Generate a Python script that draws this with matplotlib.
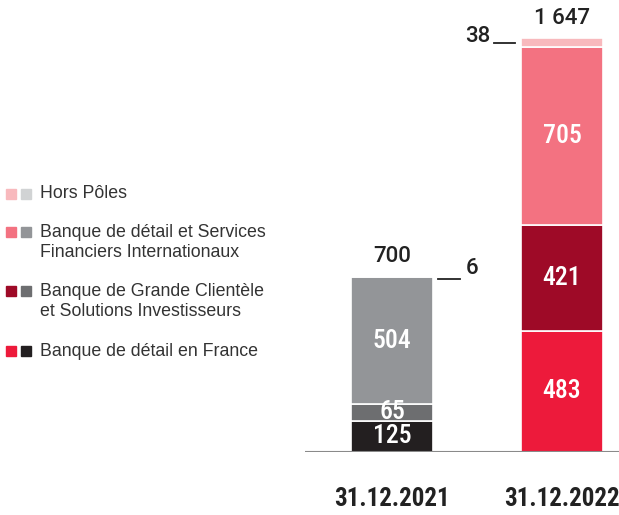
import matplotlib.pyplot as plt
from matplotlib.patches import Rectangle
from matplotlib import font_manager

years = ['31.12.2021', '31.12.2022']
segments = ['Banque de détail en France',
            'Banque de Grande Clientèle\net Solutions Investisseurs',
            'Banque de détail et Services\nFinanciers Internationaux',
            'Hors Pôles']
values_2021 = [125, 65, 504, 6]
values_2022 = [483, 421, 705, 38]
totals = ['700', '1 647']

grey_cols = ['#231f20', '#6d6e70', '#939598', '#d1d3d4']
red_cols = ['#ed1a3b', '#9e0a27', '#f37281', '#f8b9bd']

# pick a narrow face if one is around, else Arial-like Liberation Sans
ttf = font_manager.fontManager.ttflist
installed = {f.name for f in ttf}
narrow_name = 'Liberation Sans'
for cand in ['Liberation Sans Narrow', 'Roboto Condensed', 'Open Sans Condensed', 'Noto Sans Condensed']:
    if cand in installed:
        narrow_name = cand
        break


def near_weight(name, target):
    ws = [f.weight for f in ttf if f.name == name and f.style == 'normal']
    ws = [w if isinstance(w, int) else 400 for w in ws]
    if not ws:
        return 'normal'
    return min(ws, key=lambda w: abs(w - target))


narrow = [narrow_name, 'DejaVu Sans']
plain = ['Liberation Sans', 'DejaVu Sans']
med_name = 'Roboto' if 'Roboto' in installed else 'Liberation Sans'
medium = [med_name, 'DejaVu Sans']
w_inner = near_weight(narrow_name, 520)
w_total = near_weight(med_name, 520)

W, H = 619, 515
fig = plt.figure(figsize=(W / 100, H / 100), dpi=100)

# axes placed in pixel terms: x 305..619, baseline at y=452
ax = fig.add_axes([305 / W, (H - 452) / H, (W - 305) / W, 452 / H])
px_per_unit = 0.2515
ax.set_ylim(0, 452 / px_per_unit)
ax.set_xlim(-87 / 170, (314 - 87) / 170)
ax.axis('off')
ax.axhline(0, color='#8a8a8a', lw=1.5, zorder=5)

bar_w = 82 / 170
for i, (vals, cols) in enumerate([(values_2021, grey_cols), (values_2022, red_cols)]):
    bottom = 0
    for j, (v, c) in enumerate(zip(vals, cols)):
        ax.bar(i, v, bottom=bottom, width=bar_w, color=c, edgecolor='white', linewidth=1.2, zorder=3)
        if v > 50:
            ax.text(i, bottom + v / 2, str(v), color='white', ha='center', va='center',
                    fontsize=18.5, family=narrow, fontweight=w_inner, zorder=6)
        bottom += v
    ax.text(i, bottom + 36, totals[i], ha='center', va='bottom', fontsize=16,
            family=medium, fontweight=w_total, color='#222222')
    ax.text(i, -187, years[i], ha='center', va='center', fontsize=18,
            family=narrow, fontweight='bold', color='#222222')

# small-value call-outs
top21 = sum(values_2021)
ax.plot([0.27, 0.40], [top21 - 12, top21 - 12], color='#222222', lw=1.3)
ax.text(0.435, top21 - 14, str(values_2021[3]), ha='left', va='bottom', fontsize=16,
        family=medium, fontweight=w_total, color='#222222')
top22 = sum(values_2022)
ax.plot([0.60, 0.725], [top22 - 20, top22 - 20], color='#222222', lw=1.3)
ax.text(0.576, top22 - 36, str(values_2022[3]), ha='right', va='bottom', fontsize=16,
        family=medium, fontweight=w_total, color='#222222')

# legend drawn by hand
rows = [(194, 3), (242.5, 2), (301.5, 1), (351, 0)]
sq_rows = [194, 232, 291, 351]
for (y, k), ys in zip(rows, sq_rows):
    for x0, col in [(6, red_cols[k]), (21, grey_cols[k])]:
        fig.patches.append(Rectangle((x0 / W, (H - ys - 5) / H), 10 / W, 10 / H,
                                     transform=fig.transFigure, color=col))
    fig.text(40 / W, (H - y) / H, segments[k], ha='left', va='center',
             fontsize=12.8, family=plain, color='#333333', linespacing=1.2)

fig.savefig('out.png', dpi=100)
